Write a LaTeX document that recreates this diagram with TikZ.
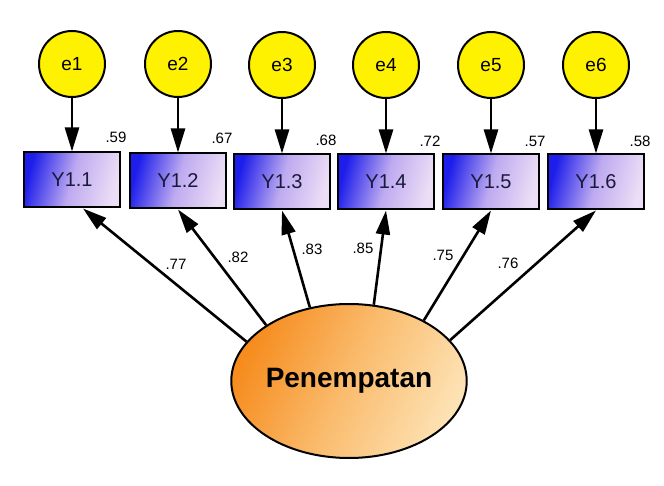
\documentclass[tikz,border=0pt]{standalone}
\usepackage{fontspec}
\setmainfont{Liberation Sans}
\usetikzlibrary{arrows.meta,shapes.geometric,calc}
\definecolor{boxdark}{RGB}{30,30,235}
\definecolor{boxmid}{RGB}{190,170,240}
\definecolor{boxlight}{RGB}{236,222,246}
\definecolor{boxtext}{RGB}{25,25,60}
\definecolor{ovdark}{RGB}{246,140,30}
\definecolor{ovlight}{RGB}{253,226,180}
\tikzset{
  errc/.style={circle, draw=black, line width=2pt, fill=yellow, minimum size=66pt, inner sep=0pt, font=\fontsize{19}{21}\selectfont},
  obsbox/.style={rectangle, draw=black, line width=2pt, minimum width=96pt, minimum height=55pt, inner sep=0pt,
     left color=boxdark, right color=boxlight, middle color=boxmid, shading angle=75, text=boxtext, font=\fontsize{20}{22}\selectfont},
  latent/.style={ellipse, draw=black, line width=2pt, minimum width=224pt, minimum height=154pt, inner sep=0pt,
     left color=ovdark, right color=ovlight, middle color={rgb,255:red,250;green,188;blue,110}, shading angle=65, font=\bfseries\fontsize{28}{30}\selectfont},
  arr/.style={line width=2.6pt, -{Triangle[length=24pt,width=14pt]}},
  val/.style={font=\fontsize{15}{17}\selectfont, inner sep=0pt},
}
\begin{document}
\begin{tikzpicture}[x=1pt,y=-1pt]
\useasboundingbox (0,0) rectangle (664,486);
% error terms
\node[errc] (e1) at (72,64) {e1};
\node[errc] (e2) at (178,64) {e2};
\node[errc] (e3) at (282,65) {e3};
\node[errc] (e4) at (386,65) {e4};
\node[errc] (e5) at (491,65) {e5};
\node[errc] (e6) at (596,65) {e6};
% observed
\node[obsbox] (y1) at (72,180) {Y1.1};
\node[obsbox] (y2) at (178,181) {Y1.2};
\node[obsbox] (y3) at (282,182) {Y1.3};
\node[obsbox] (y4) at (386,182) {Y1.4};
\node[obsbox] (y5) at (491,182) {Y1.5};
\node[obsbox] (y6) at (596,182) {Y1.6};
% latent
\node[latent] (P) at (349,381) {Penempatan};
% error arrows
\foreach \i in {1,...,6} {\draw[arr] (e\i.south) -- (y\i.north);}
% variance labels
\node[val] (r1) at (116,137) {.59};
\node[val] (r2) at (222,138) {.67};
\node[val] (r3) at (326,140) {.68};
\node[val] (r4) at (430,141) {.72};
\node[val] (r5) at (535,141) {.57};
\node[val] (r6) at (640,141) {.58};
% loadings
\draw[arr] (P.159) -- ($(y1.south)+(11,0)$);
\draw[arr] (P.146) -- (y2.south);
\draw[arr] (P.118) -- (y3.south);
\draw[arr] (P.72) -- (y4.south);
\draw[arr] (P.39) -- (y5.south);
\draw[arr] (P.22) -- (y6.south);
\node[val] (l1) at (176,264) {.77};
\node[val] (l2) at (238,257) {.82};
\node[val] (l3) at (312,249) {.83};
\node[val] (l4) at (363,248) {.85};
\node[val] (l5) at (443,255) {.75};
\node[val] (l6) at (508,263) {.76};
\end{tikzpicture}
\end{document}
